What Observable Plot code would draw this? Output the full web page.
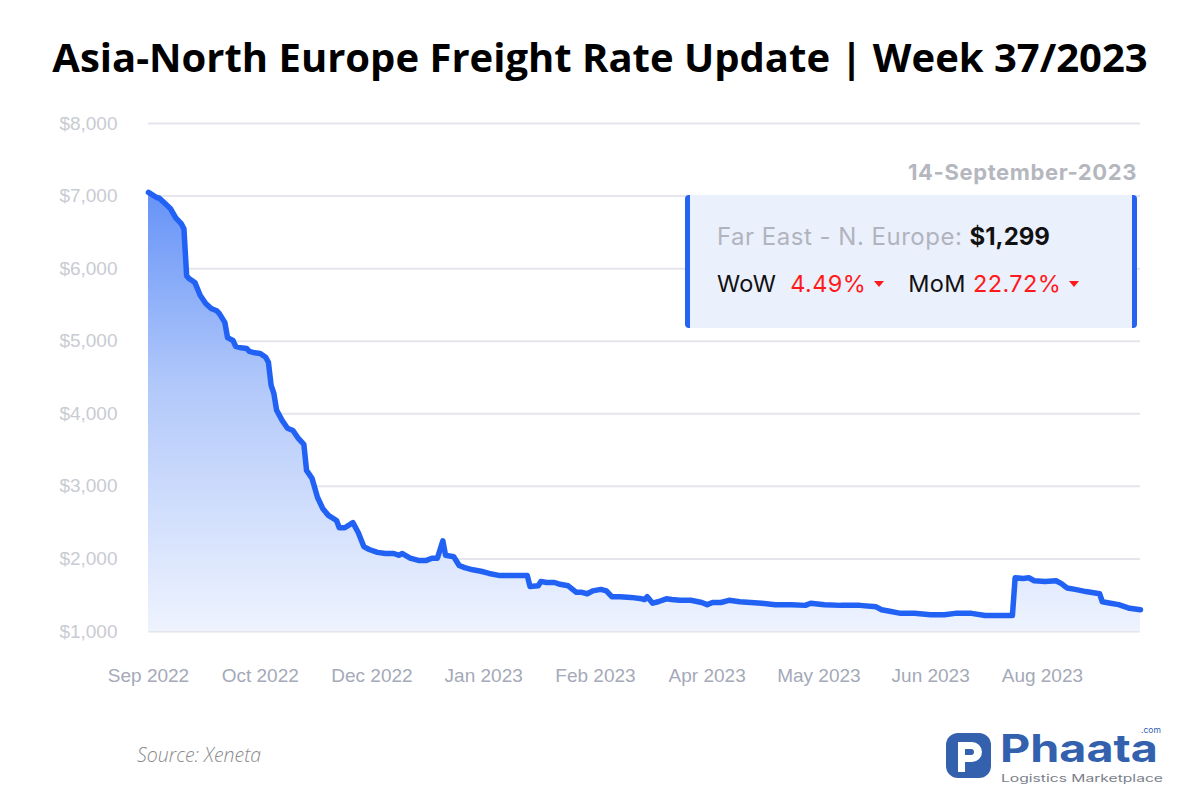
<!DOCTYPE html>
<html>
<head>
<meta charset="utf-8">
<script src="https://cdn.jsdelivr.net/npm/d3@7"></script>
<script src="https://cdn.jsdelivr.net/npm/@observablehq/plot@0.6"></script>
<style>
  html, body { margin: 0; padding: 0; background: #fff; }
  #page { position: relative; width: 1200px; height: 800px; overflow: hidden; font-family: "Open Sans", sans-serif; }
  #title { position: absolute; left: 0; top: 29px; width: 1200px; text-align: center; font-family: "Open Sans", sans-serif; font-weight: 700; font-size: 40px; line-height: 56px; color: #000; }
  #chart { position: absolute; left: 0; top: 100px; }
  #date { position: absolute; right: 63px; top: 159px; font-family: Inter, "Open Sans", sans-serif; font-weight: 700; font-size: 22px; letter-spacing: 0.6px; color: #b5b7bf; }
  #box { position: absolute; left: 685px; top: 195px; width: 452px; height: 133px; background: #ebf0fd; box-sizing: border-box; border-left: 5px solid #2563f0; border-right: 5px solid #2563f0; border-radius: 4px; font-family: Inter, "Open Sans", sans-serif; }
  #l1 { position: absolute; left: 27px; top: 27px; font-size: 24px; letter-spacing: 0.5px; color: #b1b4bd; white-space: nowrap; }
  #l1 b { color: #111; font-weight: 700; letter-spacing: 0; }
  #l2 { position: absolute; left: 27px; top: 74px; font-size: 23.5px; letter-spacing: 0.4px; color: #111; white-space: nowrap; }
  .red { color: #ff1a1a; }
  .tri { display: inline-block; width: 0; height: 0; border-left: 5.5px solid transparent; border-right: 5.5px solid transparent; border-top: 6px solid #ff1a1a; vertical-align: middle; margin-left: 8px; margin-right: 24px; position: relative; top: -2px; }
  #source { position: absolute; left: 137px; top: 741px; font-family: "Open Sans", sans-serif; font-style: italic; font-weight: 300; font-size: 19.5px; color: #8a8a8a; }
  #logo { position: absolute; left: 940px; top: 725px; width: 230px; height: 60px; }
</style>
</head>
<body>
<div id="page">
  <div id="title">Asia-North Europe Freight Rate Update | Week 37/2023</div>
  <div id="chart"></div>
  <div id="date">14-September-2023</div>
  <div id="box">
    <div id="l1">Far East - N. Europe: <b>$1,299</b></div>
    <div id="l2">WoW&nbsp; <span class="red">4.49%</span><span class="tri"></span>MoM <span class="red">22.72%</span><span class="tri"></span></div>
  </div>
  <div id="source">Source: Xeneta</div>
  <svg id="logo" viewBox="0 0 230 60">
    <rect x="6" y="8" width="45" height="45" rx="12" fill="#3361ae"/>
    <path d="M18 47 V17 H32 a10 10 0 0 1 0 20 H25 V30 H31 a3 3 0 0 0 0 -6 H25 V47 Z" fill="#fff"/>
    <text x="60" y="37" textLength="158" lengthAdjust="spacingAndGlyphs" font-family="Inter, 'Open Sans', sans-serif" font-weight="700" font-size="38" fill="#3361ae">Phaata</text>
    <text x="201" y="8" font-family="Inter, sans-serif" font-size="8.5" fill="#3361ae">.com</text>
    <text x="61" y="57" textLength="162" lengthAdjust="spacingAndGlyphs" font-family="Inter, sans-serif" font-size="10.5" fill="#7a7f8a">Logistics Marketplace</text>
  </svg>
</div>
<script>
const dates = [
  "2022-09-15","2022-09-18","2022-09-19","2022-09-21","2022-09-23","2022-09-25","2022-09-27","2022-09-28",
  "2022-09-29","2022-09-30","2022-10-02","2022-10-04","2022-10-06","2022-10-08","2022-10-10","2022-10-11",
  "2022-10-13","2022-10-14","2022-10-16","2022-10-17","2022-10-19","2022-10-21","2022-10-22","2022-10-24",
  "2022-10-26","2022-10-28","2022-10-29","2022-10-30","2022-10-31","2022-11-01","2022-11-03","2022-11-05",
  "2022-11-07","2022-11-09","2022-11-11","2022-11-12","2022-11-14","2022-11-16","2022-11-18","2022-11-20",
  "2022-11-23","2022-11-24","2022-11-26","2022-11-29","2022-12-01","2022-12-03","2022-12-05","2022-12-08",
  "2022-12-11","2022-12-14","2022-12-16","2022-12-17","2022-12-20","2022-12-23","2022-12-26","2022-12-28",
  "2022-12-30","2023-01-01","2023-01-02","2023-01-05","2023-01-07","2023-01-09","2023-01-12","2023-01-15",
  "2023-01-18","2023-01-22","2023-01-26","2023-01-29","2023-02-01","2023-02-02","2023-02-05","2023-02-06",
  "2023-02-08","2023-02-11","2023-02-13","2023-02-16","2023-02-19","2023-02-21","2023-02-23","2023-02-25",
  "2023-02-28","2023-03-02","2023-03-04","2023-03-07","2023-03-11","2023-03-15","2023-03-16","2023-03-17",
  "2023-03-19","2023-03-21","2023-03-24","2023-03-26","2023-03-29","2023-04-02","2023-04-06","2023-04-08",
  "2023-04-10","2023-04-13","2023-04-16","2023-04-20","2023-04-28","2023-05-03","2023-05-09","2023-05-14",
  "2023-05-16","2023-05-21","2023-05-27","2023-06-03","2023-06-09","2023-06-11","2023-06-14","2023-06-18",
  "2023-06-23","2023-06-29","2023-07-04","2023-07-08","2023-07-14","2023-07-19","2023-07-25","2023-07-29",
  "2023-07-30","2023-08-02","2023-08-04","2023-08-06","2023-08-10","2023-08-14","2023-08-16","2023-08-18",
  "2023-08-21","2023-08-25","2023-08-30","2023-08-31","2023-09-03","2023-09-06","2023-09-10","2023-09-14"
];
const rates = [
  7050,6980,6970,6900,6830,6700,6620,6550,
  5900,5860,5810,5630,5520,5450,5420,5380,
  5260,5050,5010,4930,4910,4900,4860,4840,
  4830,4780,4710,4390,4280,4050,3910,3800,
  3770,3660,3580,3220,3110,2850,2690,2600,
  2530,2430,2430,2500,2360,2170,2130,2090,
  2075,2075,2050,2075,2010,1980,1980,2010,
  2010,2250,2050,2030,1910,1880,1850,1830,
  1800,1770,1770,1770,1770,1620,1630,1690,
  1675,1675,1650,1630,1540,1540,1520,1560,
  1580,1560,1480,1480,1470,1450,1440,1480,
  1390,1410,1450,1440,1430,1430,1400,1370,
  1400,1400,1430,1410,1390,1370,1370,1360,
  1390,1370,1360,1360,1340,1300,1280,1250,
  1250,1230,1230,1250,1250,1220,1220,1220,
  1740,1730,1740,1700,1690,1700,1660,1600,
  1580,1550,1520,1410,1390,1370,1320,1299
];
const tickDates = ["2022-09-15","2022-10-26","2022-12-06","2023-01-16","2023-02-26","2023-04-08","2023-05-19","2023-06-29","2023-08-09"];
const tickLabels = ["Sep 2022","Oct 2022","Dec 2022","Jan 2023","Feb 2023","Apr 2023","May 2023","Jun 2023","Aug 2023"];
const yTicks = [1000,2000,3000,4000,5000,6000,7000,8000];

const data = dates.map((d, i) => ({date: new Date(d), rate: rates[i]}));
const xTicks = tickDates.map(d => new Date(d));
const labelOf = new Map(xTicks.map((d, i) => [+d, tickLabels[i]]));

const gradient = () => {
  const ns = "http://www.w3.org/2000/svg";
  const defs = document.createElementNS(ns, "defs");
  const lg = document.createElementNS(ns, "linearGradient");
  lg.setAttribute("id", "areaGrad");
  lg.setAttribute("x1", "0"); lg.setAttribute("y1", "0");
  lg.setAttribute("x2", "0"); lg.setAttribute("y2", "1");
  [["0%", "#6693f7"], ["45%", "#b3c9fa"], ["100%", "#eef3fe"]].forEach(([o, c]) => {
    const s = document.createElementNS(ns, "stop");
    s.setAttribute("offset", o); s.setAttribute("stop-color", c);
    lg.appendChild(s);
  });
  defs.appendChild(lg);
  return defs;
};

const chart = Plot.plot({
  width: 1200,
  height: 600,
  marginLeft: 148,
  marginRight: 60,
  marginTop: 23,
  marginBottom: 69,
  style: {background: "transparent", overflow: "visible"},
  x: {
    type: "utc",
    domain: [new Date("2022-09-15"), new Date("2023-09-14")],
    ticks: xTicks,
    tickFormat: d => labelOf.get(+d) ?? "",
    tickSize: 0,
    tickPadding: 37,
    label: null
  },
  y: {
    domain: [1000, 8000],
    ticks: yTicks,
    tickFormat: d => "$" + d3.format(",")(d),
    tickSize: 0,
    tickPadding: 31,
    label: null
  },
  marks: [
    gradient,
    Plot.ruleY(yTicks, {stroke: "#e4e6eb", strokeWidth: 2}),
    Plot.areaY(data, {x: "date", y1: 1000, y2: "rate", fill: "url(#areaGrad)"}),
    Plot.lineY(data, {x: "date", y: "rate", stroke: "#2162f5", strokeWidth: 5.5, strokeLinejoin: "round", strokeLinecap: "round"}),
    Plot.axisX({ticks: xTicks, tickFormat: d => labelOf.get(+d) ?? "", tickSize: 0, tickPadding: 37, fontSize: 19, fill: "#a5a9b8", fontFamily: "'Liberation Sans', Arial, sans-serif", label: null}),
    Plot.axisY({ticks: yTicks, tickFormat: d => "$" + d3.format(",")(d), tickSize: 0, tickPadding: 31, fontSize: 19, fill: "#c9cbd2", fontFamily: "'Liberation Sans', Arial, sans-serif", label: null})
  ]
});
document.getElementById("chart").appendChild(chart);
</script>
</body>
</html>
